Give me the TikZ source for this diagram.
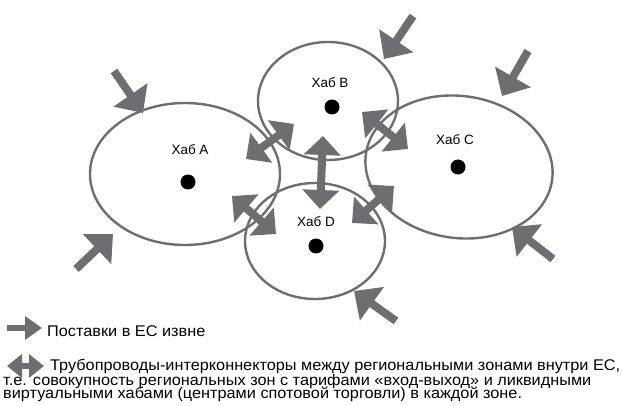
\documentclass[tikz,border=0pt]{standalone}
\usepackage{fontspec}
\setmainfont{Liberation Sans}
\newfontfamily\legfont[FakeStretch=1.05]{Liberation Sans}
\usetikzlibrary{arrows.meta,shapes.geometric}
\definecolor{ag}{HTML}{6D6E71}
\begin{document}
\begin{tikzpicture}[x=1pt,y=-1pt,
  zone/.style={draw=ag,line width=2.4pt},
  hubdot/.style={circle,fill=black,inner sep=0pt,minimum size=15pt},
  hublabel/.style={font=\fontsize{13.5}{16}\selectfont,inner sep=0pt},
  inflow/.style={draw=ag,line width=8pt,-{Triangle[width=40pt,length=22pt]}},
  pipe/.style={draw=ag,line width=8pt,{Triangle[width=36pt,length=19pt]}-{Triangle[width=36pt,length=19pt]}},
  legtext/.style={font=\legfont\fontsize{15.5}{16}\selectfont,inner sep=0pt,anchor=base west}]
\useasboundingbox (0,0) rectangle (622,406);
% zones
\draw[zone] (185,174) ellipse [x radius=95pt, y radius=71pt];
\draw[zone] (328,101) ellipse [x radius=70pt, y radius=59pt];
\draw[zone,rotate around={-8:(459,167)}] (459,167) ellipse [x radius=94pt, y radius=71pt];
\draw[zone] (315,241) ellipse [x radius=70pt, y radius=58pt];
% hubs
\node[hubdot] (dA) at (188,182) {};
\node[hubdot] (dB) at (332,107) {};
\node[hubdot] (dC) at (458,167) {};
\node[hubdot] (dD) at (316,246) {};
\node[hublabel] (lA) at (190,150) {Хаб A};
\node[hublabel] (lB) at (330,83) {Хаб B};
\node[hublabel] (lC) at (455,140) {Хаб C};
\node[hublabel] (lD) at (316,222) {Хаб D};
% inflow coordinates
\coordinate (i1s) at (114,71);  \coordinate (i1e) at (143,113);
\coordinate (i2s) at (76,269);  \coordinate (i2e) at (113,234);
\coordinate (i3s) at (413,16);  \coordinate (i3e) at (384,59);
\coordinate (i4s) at (528,51);  \coordinate (i4e) at (502,96);
\coordinate (i5s) at (553,259); \coordinate (i5e) at (512,227);
\coordinate (i6s) at (396,321); \coordinate (i6e) at (354,291);
\draw[inflow] (i1s) -- (i1e);
\draw[inflow] (i2s) -- (i2e);
\draw[inflow] (i3s) -- (i3e);
\draw[inflow] (i4s) -- (i4e);
\draw[inflow] (i5s) -- (i5e);
\draw[inflow] (i6s) -- (i6e);
% interconnectors
\coordinate (ab1) at (246,159); \coordinate (ab2) at (294,124);
\coordinate (ad1) at (232,196); \coordinate (ad2) at (276,234);
\coordinate (bd1) at (323,136); \coordinate (bd2) at (320,209);
\coordinate (bc1) at (362,112); \coordinate (bc2) at (408,149);
\coordinate (cd1) at (394,186); \coordinate (cd2) at (352,223);
\draw[pipe] (ab1) -- (ab2);
\draw[pipe] (ad1) -- (ad2);
\draw[pipe] (bd1) -- (bd2);
\draw[pipe] (bc1) -- (bc2);
\draw[pipe] (cd1) -- (cd2);
% legend
\coordinate (la1) at (7,328); \coordinate (la2) at (42,328);
\draw[draw=ag,line width=6pt,-{Triangle[width=23pt,length=17pt]}] (la1) -- (la2);
\coordinate (lb1) at (7,366); \coordinate (lb2) at (44,366);
\draw[draw=ag,line width=6pt,{Triangle[width=23pt,length=15pt]}-{Triangle[width=23pt,length=15pt]}] (lb1) -- (lb2);
\node[legtext] (t1) at (47,337) {Поставки в ЕС извне};
\node[legtext] (t2) at (50,371) {Трубопроводы-интерконнекторы между региональными зонами внутри ЕС,};
\node[legtext] (t3) at (3,385) {т.е. совокупность региональных зон с тарифами «вход-выход» и ликвидными};
\node[legtext] (t4) at (3,399) {виртуальными хабами (центрами спотовой торговли) в каждой зоне.};
\end{tikzpicture}
\end{document}
